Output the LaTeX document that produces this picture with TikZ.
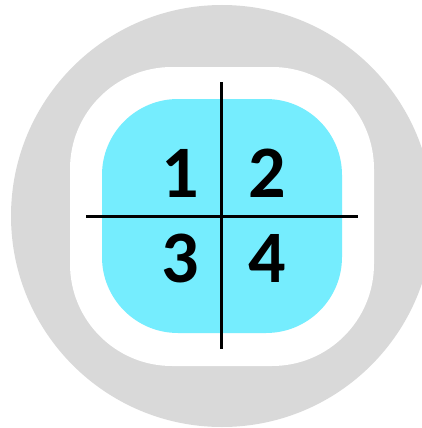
\documentclass[tikz,border=0pt]{standalone}
\usepackage{fontspec}
\setmainfont{Carlito}
\definecolor{ringgray}{RGB}{217,217,217}
\definecolor{padcyan}{RGB}{117,237,254}
\begin{document}
\begin{tikzpicture}[x=1pt,y=-1pt,
  num/.style={font=\fontsize{74}{74}\selectfont\bfseries, inner sep=0pt, anchor=base},
  divider/.style={line width=3pt, black}]
\useasboundingbox (0,0) rectangle (421,428);
\fill[ringgray] (222,216) circle (211);
\fill[white, rounded corners=102pt] (70,67) rectangle (374,366);
\fill[padcyan, rounded corners=76pt] (102,99) rectangle (342,333);
\coordinate (vt) at (221.5,82);
\coordinate (vb) at (221.5,349);
\coordinate (hl) at (86,216);
\coordinate (hr) at (358,216);
\draw[divider] (vt) -- (vb);
\draw[divider] (hl) -- (hr);
\node[num] (n1) at (180,197) {1};
\node[num] (n2) at (267,197) {2};
\node[num] (n3) at (180,282) {3};
\node[num] (n4) at (267,282) {4};
\end{tikzpicture}
\end{document}
